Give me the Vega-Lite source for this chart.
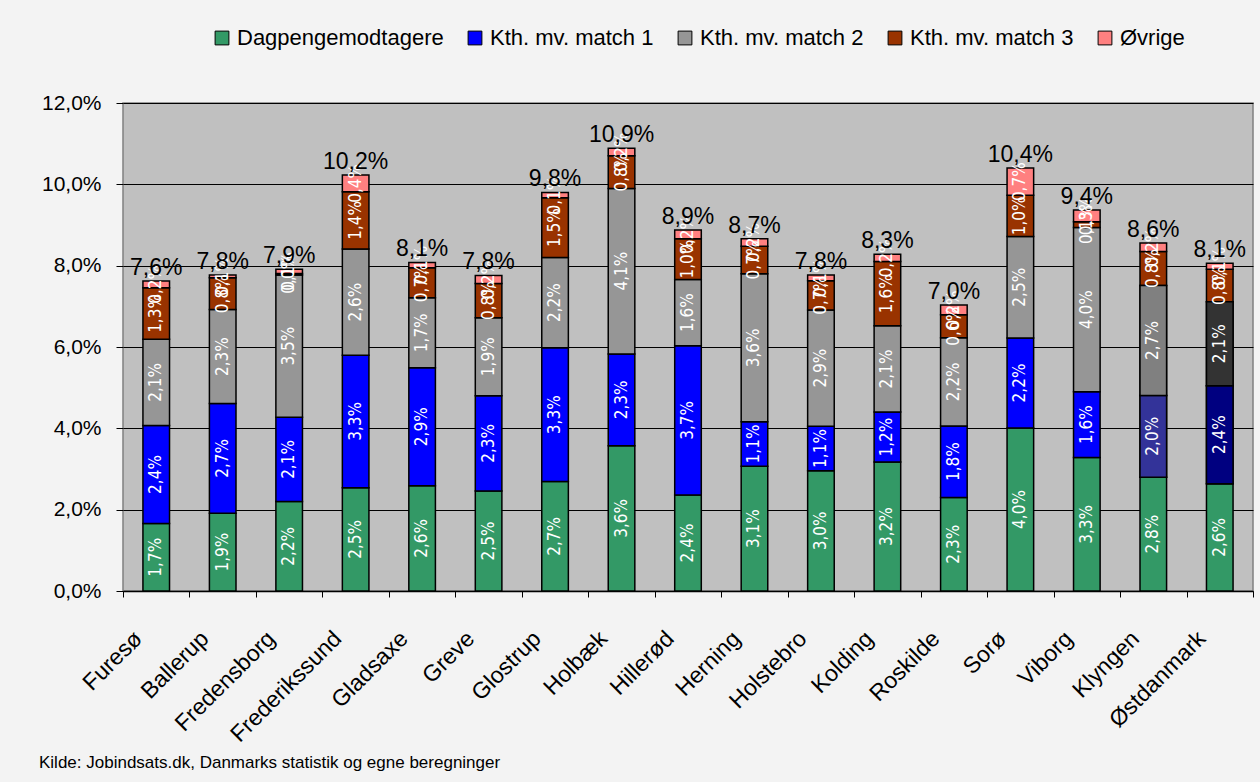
{
  "$schema": "https://vega.github.io/schema/vega-lite/v6.json",
  "width": 1130,
  "height": 488,
  "autosize": {"type": "none"},
  "padding": {"left": 123, "top": 103, "right": 7, "bottom": 191},
  "background": "#f3f3f3",
  "config": {
    "font": "Liberation Sans",
    "locale": {"number": {"decimal": ",", "thousands": ".", "grouping": [3], "currency": ["", " kr."]}},
    "view": {"fill": "#c0c0c0", "stroke": "#808080", "strokeWidth": 1.5}
  },
  "title": {
    "text": "Kilde: Jobindsats.dk, Danmarks statistik og egne beregninger",
    "orient": "bottom",
    "anchor": "start",
    "frame": "group",
    "dx": -84,
    "offset": 9,
    "fontSize": 17,
    "fontWeight": "normal",
    "color": "black"
  },
  "data": {
    "values": [
      {"name": "Furesø", "serie": "Dagpengemodtagere", "o": 1, "value": 0.0166},
      {"name": "Furesø", "serie": "Kth. mv. match 1", "o": 2, "value": 0.0241},
      {"name": "Furesø", "serie": "Kth. mv. match 2", "o": 3, "value": 0.0212},
      {"name": "Furesø", "serie": "Kth. mv. match 3", "o": 4, "value": 0.0127},
      {"name": "Furesø", "serie": "Øvrige", "o": 5, "value": 0.0016},
      {"name": "Ballerup", "serie": "Dagpengemodtagere", "o": 1, "value": 0.0191},
      {"name": "Ballerup", "serie": "Kth. mv. match 1", "o": 2, "value": 0.0270},
      {"name": "Ballerup", "serie": "Kth. mv. match 2", "o": 3, "value": 0.0231},
      {"name": "Ballerup", "serie": "Kth. mv. match 3", "o": 4, "value": 0.0078},
      {"name": "Ballerup", "serie": "Øvrige", "o": 5, "value": 0.0007},
      {"name": "Fredensborg", "serie": "Dagpengemodtagere", "o": 1, "value": 0.0220},
      {"name": "Fredensborg", "serie": "Kth. mv. match 1", "o": 2, "value": 0.0207},
      {"name": "Fredensborg", "serie": "Kth. mv. match 2", "o": 3, "value": 0.0350},
      {"name": "Fredensborg", "serie": "Kth. mv. match 3", "o": 4, "value": 0.0004},
      {"name": "Fredensborg", "serie": "Øvrige", "o": 5, "value": 0.0010},
      {"name": "Frederikssund", "serie": "Dagpengemodtagere", "o": 1, "value": 0.0254},
      {"name": "Frederikssund", "serie": "Kth. mv. match 1", "o": 2, "value": 0.0326},
      {"name": "Frederikssund", "serie": "Kth. mv. match 2", "o": 3, "value": 0.0261},
      {"name": "Frederikssund", "serie": "Kth. mv. match 3", "o": 4, "value": 0.0141},
      {"name": "Frederikssund", "serie": "Øvrige", "o": 5, "value": 0.0041},
      {"name": "Gladsaxe", "serie": "Dagpengemodtagere", "o": 1, "value": 0.0259},
      {"name": "Gladsaxe", "serie": "Kth. mv. match 1", "o": 2, "value": 0.0290},
      {"name": "Gladsaxe", "serie": "Kth. mv. match 2", "o": 3, "value": 0.0172},
      {"name": "Gladsaxe", "serie": "Kth. mv. match 3", "o": 4, "value": 0.0074},
      {"name": "Gladsaxe", "serie": "Øvrige", "o": 5, "value": 0.0013},
      {"name": "Greve", "serie": "Dagpengemodtagere", "o": 1, "value": 0.0246},
      {"name": "Greve", "serie": "Kth. mv. match 1", "o": 2, "value": 0.0234},
      {"name": "Greve", "serie": "Kth. mv. match 2", "o": 3, "value": 0.0192},
      {"name": "Greve", "serie": "Kth. mv. match 3", "o": 4, "value": 0.0084},
      {"name": "Greve", "serie": "Øvrige", "o": 5, "value": 0.0020},
      {"name": "Glostrup", "serie": "Dagpengemodtagere", "o": 1, "value": 0.0269},
      {"name": "Glostrup", "serie": "Kth. mv. match 1", "o": 2, "value": 0.0329},
      {"name": "Glostrup", "serie": "Kth. mv. match 2", "o": 3, "value": 0.0222},
      {"name": "Glostrup", "serie": "Kth. mv. match 3", "o": 4, "value": 0.0147},
      {"name": "Glostrup", "serie": "Øvrige", "o": 5, "value": 0.0013},
      {"name": "Holbæk", "serie": "Dagpengemodtagere", "o": 1, "value": 0.0357},
      {"name": "Holbæk", "serie": "Kth. mv. match 1", "o": 2, "value": 0.0226},
      {"name": "Holbæk", "serie": "Kth. mv. match 2", "o": 3, "value": 0.0407},
      {"name": "Holbæk", "serie": "Kth. mv. match 3", "o": 4, "value": 0.0080},
      {"name": "Holbæk", "serie": "Øvrige", "o": 5, "value": 0.0019},
      {"name": "Hillerød", "serie": "Dagpengemodtagere", "o": 1, "value": 0.0236},
      {"name": "Hillerød", "serie": "Kth. mv. match 1", "o": 2, "value": 0.0367},
      {"name": "Hillerød", "serie": "Kth. mv. match 2", "o": 3, "value": 0.0163},
      {"name": "Hillerød", "serie": "Kth. mv. match 3", "o": 4, "value": 0.0100},
      {"name": "Hillerød", "serie": "Øvrige", "o": 5, "value": 0.0022},
      {"name": "Herning", "serie": "Dagpengemodtagere", "o": 1, "value": 0.0307},
      {"name": "Herning", "serie": "Kth. mv. match 1", "o": 2, "value": 0.0109},
      {"name": "Herning", "serie": "Kth. mv. match 2", "o": 3, "value": 0.0364},
      {"name": "Herning", "serie": "Kth. mv. match 3", "o": 4, "value": 0.0068},
      {"name": "Herning", "serie": "Øvrige", "o": 5, "value": 0.0018},
      {"name": "Holstebro", "serie": "Dagpengemodtagere", "o": 1, "value": 0.0296},
      {"name": "Holstebro", "serie": "Kth. mv. match 1", "o": 2, "value": 0.0109},
      {"name": "Holstebro", "serie": "Kth. mv. match 2", "o": 3, "value": 0.0286},
      {"name": "Holstebro", "serie": "Kth. mv. match 3", "o": 4, "value": 0.0072},
      {"name": "Holstebro", "serie": "Øvrige", "o": 5, "value": 0.0014},
      {"name": "Kolding", "serie": "Dagpengemodtagere", "o": 1, "value": 0.0317},
      {"name": "Kolding", "serie": "Kth. mv. match 1", "o": 2, "value": 0.0123},
      {"name": "Kolding", "serie": "Kth. mv. match 2", "o": 3, "value": 0.0212},
      {"name": "Kolding", "serie": "Kth. mv. match 3", "o": 4, "value": 0.0158},
      {"name": "Kolding", "serie": "Øvrige", "o": 5, "value": 0.0018},
      {"name": "Roskilde", "serie": "Dagpengemodtagere", "o": 1, "value": 0.0230},
      {"name": "Roskilde", "serie": "Kth. mv. match 1", "o": 2, "value": 0.0176},
      {"name": "Roskilde", "serie": "Kth. mv. match 2", "o": 3, "value": 0.0217},
      {"name": "Roskilde", "serie": "Kth. mv. match 3", "o": 4, "value": 0.0056},
      {"name": "Roskilde", "serie": "Øvrige", "o": 5, "value": 0.0024},
      {"name": "Sorø", "serie": "Dagpengemodtagere", "o": 1, "value": 0.0401},
      {"name": "Sorø", "serie": "Kth. mv. match 1", "o": 2, "value": 0.0221},
      {"name": "Sorø", "serie": "Kth. mv. match 2", "o": 3, "value": 0.0250},
      {"name": "Sorø", "serie": "Kth. mv. match 3", "o": 4, "value": 0.0101},
      {"name": "Sorø", "serie": "Øvrige", "o": 5, "value": 0.0067},
      {"name": "Viborg", "serie": "Dagpengemodtagere", "o": 1, "value": 0.0328},
      {"name": "Viborg", "serie": "Kth. mv. match 1", "o": 2, "value": 0.0162},
      {"name": "Viborg", "serie": "Kth. mv. match 2", "o": 3, "value": 0.0404},
      {"name": "Viborg", "serie": "Kth. mv. match 3", "o": 4, "value": 0.0014},
      {"name": "Viborg", "serie": "Øvrige", "o": 5, "value": 0.0029},
      {"name": "Klyngen", "serie": "Dagpengemodtagere", "o": 1, "value": 0.0280},
      {"name": "Klyngen", "serie": "Kth. mv. match 1", "o": 2, "value": 0.0201},
      {"name": "Klyngen", "serie": "Kth. mv. match 2", "o": 3, "value": 0.0270},
      {"name": "Klyngen", "serie": "Kth. mv. match 3", "o": 4, "value": 0.0084},
      {"name": "Klyngen", "serie": "Øvrige", "o": 5, "value": 0.0021},
      {"name": "Østdanmark", "serie": "Dagpengemodtagere", "o": 1, "value": 0.0264},
      {"name": "Østdanmark", "serie": "Kth. mv. match 1", "o": 2, "value": 0.0241},
      {"name": "Østdanmark", "serie": "Kth. mv. match 2", "o": 3, "value": 0.0206},
      {"name": "Østdanmark", "serie": "Kth. mv. match 3", "o": 4, "value": 0.0080},
      {"name": "Østdanmark", "serie": "Øvrige", "o": 5, "value": 0.0015}
    ]
  },
  "transform": [
    {"stack": "value", "groupby": ["name"], "sort": [{"field": "o", "order": "ascending"}], "as": ["v0", "v1"]}
  ],
  "encoding": {
    "x": {
      "field": "name",
      "type": "nominal",
      "sort": null,
      "title": null,
      "scale": {"paddingInner": 0, "paddingOuter": 0},
      "axis": {
        "labelAngle": -45,
        "labelFontSize": 23,
        "labelColor": "black",
        "labelPadding": 30,
        "labelOffset": -26,
        "tickBand": "extent",
        "tickColor": "black",
        "tickSize": 6,
        "domainColor": "black",
        "domainWidth": 1.5
      }
    }
  },
  "layer": [
    {
      "mark": {"type": "bar", "width": {"band": 0.4}, "stroke": "black", "strokeWidth": 1.5},
      "encoding": {
        "y": {
          "field": "v1",
          "type": "quantitative",
          "title": null,
          "scale": {"domain": [0, 0.12]},
          "axis": {
            "values": [0, 0.02, 0.04, 0.06, 0.08, 0.1, 0.12],
            "format": ".1%",
            "labelFontSize": 21,
            "labelColor": "black",
            "labelPadding": 15,
            "tickColor": "black",
            "tickSize": 7,
            "domain": false,
            "gridColor": "black",
            "gridWidth": 1,
            "gridOpacity": 1
          }
        },
        "y2": {"field": "v0"},
        "color": {
          "field": "serie",
          "type": "nominal",
          "scale": {
            "domain": ["Dagpengemodtagere", "Kth. mv. match 1", "Kth. mv. match 2", "Kth. mv. match 3", "Øvrige"],
            "range": ["#339966", "#0000ff", "#969696", "#993300", "#ff8080"]
          },
          "legend": {
            "title": null,
            "orient": "none",
            "direction": "horizontal",
            "legendX": 88,
            "legendY": -76,
            "symbolType": "square",
            "symbolSize": 190,
            "symbolStrokeColor": "black",
            "symbolStrokeWidth": 1,
            "symbolOpacity": 1,
            "labelFontSize": 22,
            "labelColor": "black",
            "labelOffset": 4,
            "columnPadding": 20,
            "labelLimit": 300
          }
        }
      }
    },
    {
      "transform": [
        {"filter": "(datum.name === 'Klyngen' || datum.name === 'Østdanmark') && (datum.o === 2 || datum.o === 3)"}
      ],
      "mark": {"type": "bar", "width": {"band": 0.4}, "stroke": "black", "strokeWidth": 1.5},
      "encoding": {
        "y": {"field": "v1", "type": "quantitative"},
        "y2": {"field": "v0"},
        "fill": {
          "condition": [
            {"test": "datum.name === 'Klyngen' && datum.o === 2", "value": "#333399"},
            {"test": "datum.name === 'Klyngen' && datum.o === 3", "value": "#808080"},
            {"test": "datum.name === 'Østdanmark' && datum.o === 2", "value": "#000080"}
          ],
          "value": "#333333"
        }
      }
    },
    {
      "transform": [{"calculate": "(datum.v0 + datum.v1) / 2", "as": "mid"}],
      "mark": {"type": "text", "angle": 270, "align": "center", "baseline": "middle", "color": "white", "fontSize": 17, "font": "DejaVu Sans Condensed, Liberation Sans, sans-serif"},
      "encoding": {
        "y": {"field": "mid", "type": "quantitative"},
        "text": {"field": "value", "type": "quantitative", "format": ".1%"}
      }
    },
    {
      "transform": [{"aggregate": [{"op": "sum", "field": "value", "as": "total"}], "groupby": ["name"]}],
      "mark": {"type": "text", "baseline": "alphabetic", "dy": -6, "fontSize": 23, "color": "black"},
      "encoding": {
        "y": {"field": "total", "type": "quantitative"},
        "text": {"field": "total", "type": "quantitative", "format": ".1%"}
      }
    }
  ]
}
